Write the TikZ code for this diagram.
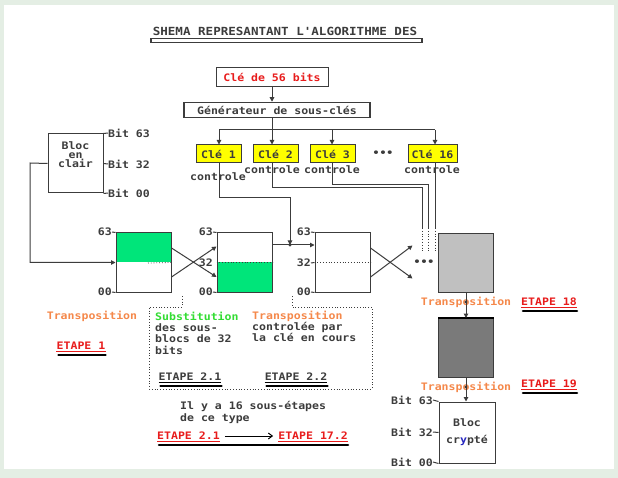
\documentclass[tikz,border=0pt]{standalone}
\usepackage{fontspec}
\newfontfamily\pxfont{DejaVu Sans Mono}[FakeStretch=1.12]
\usetikzlibrary{arrows.meta}
\definecolor{bg}{HTML}{E4EEE4}
\definecolor{lc}{HTML}{3C3C3C}
\definecolor{gfill}{HTML}{00E57A}
\definecolor{gtext}{HTML}{33DD33}
\definecolor{org}{HTML}{F5884A}
\definecolor{rd}{HTML}{E81C1C}
\definecolor{yel}{HTML}{FFFF00}
\definecolor{grayA}{HTML}{C0C0C0}
\definecolor{grayB}{HTML}{7A7A7A}
\definecolor{bl}{HTML}{2828C0}
\begin{document}
\begin{tikzpicture}[x=1pt,y=-1pt,
  txt/.style={font=\pxfont\bfseries\fontsize{10.3}{11.5}\selectfont, inner sep=0pt, text=lc},
  ln/.style={draw=lc, line width=1pt},
  dotln/.style={draw=lc, line width=0.8pt, dotted},
  arr/.style={ln, -{Triangle[length=4.5pt,width=4.5pt]}},
  box/.style={draw=lc, line width=1pt},
  cle/.style={box, fill=yel, txt, minimum width=45pt, minimum height=18pt},
  blk/.style={box, minimum width=55pt, minimum height=59pt, inner sep=0pt},
  blackul/.style={draw=black, line width=2.6pt, line cap=round}
]
\useasboundingbox (0,0) rectangle (618,478);
\fill[bg] (0,0) rectangle (618,478);
\fill[white] (4,5) rectangle (614,469);

% title
\node[txt, font=\pxfont\bfseries\fontsize{11.2}{12}\selectfont] (title) at (285,31) {SHEMA REPRESANTANT L'ALGORITHME DES};
\draw[lc, line width=1.2pt, fill=white] (151,38.5) rectangle (422,42.5);

% key and generator
\node[box, txt, text=rd, minimum width=112pt, minimum height=19pt] (k56) at (272,77) {Clé de 56 bits};
\node[box, txt, line width=1.5pt, minimum width=186pt, minimum height=15pt] (gen) at (277,110) {Générateur de sous-clés};
\draw[arr] (k56.south) -- (k56.south |- gen.north);

\coordinate (b1) at (219,130);
\coordinate (b2) at (272,130);
\coordinate (b3) at (332,130);
\coordinate (b4) at (435,130);
\draw[ln] (b2 |- gen.south) -- (b2);
\draw[ln] (b1) -- (b4);

\node[cle] (k1) at (218.5,154) {Clé 1};
\node[cle] (k2) at (275.5,154) {Clé 2};
\node[cle] (k3) at (332.5,154) {Clé 3};
\node[txt] (kdots) at (383,154) {•••};
\node[cle, minimum width=49pt] (k16) at (432.5,154) {Clé 16};
\draw[arr] (b1) -- (b1 |- k1.north);
\draw[arr] (b2) -- (b2 |- k2.north);
\draw[arr] (b3) -- (b3 |- k3.north);
\draw[arr] (b4) -- (b4 |- k16.north);

% plain block
\node[box, minimum width=55pt, minimum height=59pt] (clair) at (75.5,163.5) {};
\node[txt, align=center, font=\pxfont\bfseries\fontsize{10.3}{9}\selectfont] (clairt) at (75.5,155) {Bloc\\en\\clair};
\node[txt, anchor=west] (cb63) at (108,133) {Bit 63};
\node[txt, anchor=west] (cb32) at (108,164) {Bit 32};
\node[txt, anchor=west] (cb00) at (108,193) {Bit 00};
\draw[ln] (clair.north east) -- (cb63.west);
\draw[ln] (clair.east) -- (cb32.west);
\draw[ln] (clair.south east) -- (cb00.west);

% blocks
\node[blk, path picture={\fill[gfill] (path picture bounding box.north west) rectangle (path picture bounding box.east);}] (r1) at (143.5,262.5) {};
\node[blk, path picture={\fill[gfill] (path picture bounding box.west) rectangle (path picture bounding box.south east);}] (r2) at (244.5,262.5) {};
\node[blk] (r3) at (342.5,262.5) {};
\node[blk, fill=grayA] (r4) at (466,263) {};
\node[blk, fill=grayB] (r5) at (466,348) {};
\draw[black, line width=2pt] (r5.north west) -- (r5.north east);
\node[box, minimum width=56pt, minimum height=61pt] (r6) at (467,432.5) {};
\node[txt] (r6a) at (467,423) {Bloc};
\node[txt] (r6b) at (467,440) {cr{\color{bl}y}pté};

\draw[dotln] (148,263) -- (r1.east);
\draw[dotln] (r2.west) -- (r2.east);
\draw[dotln] (r3.west) -- (r3.east);

% block labels
\node[txt, anchor=east] (l1a) at (112,232) {63};
\node[txt, anchor=east] (l1c) at (112,292) {00};
\draw[ln] (l1a.east) -- (r1.north west);
\draw[ln] (l1c.east) -- (r1.south west);
\node[txt, anchor=east] (l2a) at (213,232) {63};
\node[txt, anchor=east] (l2b) at (213,263) {32};
\node[txt, anchor=east] (l2c) at (213,292) {00};
\draw[ln] (l2a.east) -- (r2.north west);
\draw[ln] (l2c.east) -- (r2.south west);
\node[txt, anchor=east] (l3a) at (311,232) {63};
\node[txt, anchor=east] (l3b) at (311,263) {32};
\node[txt, anchor=east] (l3c) at (311,292) {00};
\draw[ln] (l3a.east) -- (r3.north west);
\draw[ln] (l3b.east) -- (r3.west);
\draw[ln] (l3c.east) -- (r3.south west);

% input path
\coordinate (p1) at (30,163);
\draw[arr] (clair.west) -- (p1) |- (r1.west);

% crossing arrows
\draw[arr] ([yshift=14.5pt]r1.east) -- ([yshift=-14.5pt]r2.west);
\draw[arr] ([yshift=-14.5pt]r1.east) -- ([yshift=16pt]r2.west);
\draw[arr] ([yshift=14.5pt]r3.east) -- ([xshift=42pt,yshift=-16pt]r3.east);
\draw[arr] ([yshift=-14.5pt]r3.east) -- ([xshift=42pt,yshift=17pt]r3.east);
\node[txt] (mdots) at (424,263) {•••};

% bus between block 2 and 3
\coordinate (j1) at (290,245);
\draw[arr] (r2.east |- j1) -- (r3.west |- j1);

% controle labels
\node[txt] (c1) at (218,177) {controle};
\node[txt] (c2) at (272,170) {controle};
\node[txt] (c3) at (332,170) {controle};
\node[txt] (c16) at (432,170) {controle};

% control lines
\draw[arr] (b1 |- k1.south) -- (219,198) -- (290,198) -- (j1);
\fill[lc] (j1) circle (1.6pt);
\coordinate (s2) at (422,228); \coordinate (d2) at (422,252);
\coordinate (s3) at (428,228); \coordinate (d3) at (428,252);
\coordinate (s4) at (435,228); \coordinate (d4) at (435,252);
\draw[ln] (b2 |- k2.south) -- (272,188) -| (s2);
\draw[ln] (b3 |- k3.south) -- (332,185) -| (s3);
\draw[ln] (b4 |- k16.south) -- (s4);
\draw[dotln] (s2) -- (d2);
\draw[dotln] (s3) -- (d3);
\draw[dotln] (s4) -- (d4);

% right column
\node[txt, text=org] (t18) at (466,302) {Transposition};
\node[txt, text=rd] (e18) at (549,302) {ETAPE 18};
\draw[arr] (r4.south) -- (r4.south |- r5.north);
\fill[lc] (466,302) circle (1.6pt);
\node[txt, text=org] (t19) at (466,387) {Transposition};
\node[txt, text=rd] (e19) at (549,384) {ETAPE 19};
\draw[arr] (r5.south) -- (r5.south |- r6.north);
\fill[lc] (466,387) circle (1.6pt);

\node[txt, anchor=east] (cr63) at (433,400) {Bit 63};
\node[txt, anchor=east] (cr32) at (433,432) {Bit 32};
\node[txt, anchor=east] (cr00) at (433,462) {Bit 00};
\draw[ln] (cr63.east) -- (r6.north west);
\draw[ln] (cr32.east) -- (r6.west);
\draw[ln] (cr00.east) -- (r6.south west);

% left transposition
\node[txt, text=org] (t1) at (92,316) {Transposition};
\node[txt, text=rd] (e1) at (81,346) {ETAPE 1};

% dotted callout
\draw[dotln] (182,296) -- (182,307) -- (149,307) -- (149,389) -- (372,389) -- (372,307) -- (292,307) -- (292,296);
\node[txt, text=gtext, anchor=west] (sub) at (155,316) {Substitution};
\node[txt, anchor=north west, align=left, font=\pxfont\bfseries\fontsize{10.3}{11.7}\selectfont] (subt) at (155,323) {des sous-\\blocs de 32\\bits};
\node[txt, text=org, anchor=west] (tr) at (252,316) {Transposition};
\node[txt, anchor=north west, align=left, font=\pxfont\bfseries\fontsize{10.3}{11.5}\selectfont] (trt) at (252,322) {controlée par\\la clé en cours};
\node[txt] (e21) at (190,377) {ETAPE 2.1};
\node[txt] (e22) at (296,377) {ETAPE 2.2};

% bottom note
\node[txt, anchor=west] (il1) at (180,406) {Il y a 16 sous-étapes};
\node[txt, anchor=west] (il2) at (180,419) {de ce type};
\node[txt, text=rd, anchor=west] (ea) at (157,436) {ETAPE 2.1};
\node[txt, text=rd, anchor=east] (eb) at (348,436) {ETAPE 17.2};
\draw[ln, draw=black, -{Straight Barb[length=4pt,width=6pt]}] ([xshift=5pt]ea.east) -- ([xshift=-5pt]eb.west);

% underlines
\foreach \n/\c in {e1/rd, e18/rd, e19/rd, e21/black, e22/black, ea/rd, eb/rd} {
  \draw[draw=\c, line width=0.8pt] ([yshift=-1.8pt]\n.south west) -- ([yshift=-1.8pt]\n.south east);
}
\foreach \n in {e1, e18, e19, e21, e22} {
  \draw[blackul] ([yshift=-5pt,xshift=2pt]\n.south west) -- ([yshift=-5pt]\n.south east);
}
\draw[blackul] ([yshift=-5pt,xshift=2pt]ea.south west) -- ([yshift=-5pt]eb.south east);
\end{tikzpicture}
\end{document}
